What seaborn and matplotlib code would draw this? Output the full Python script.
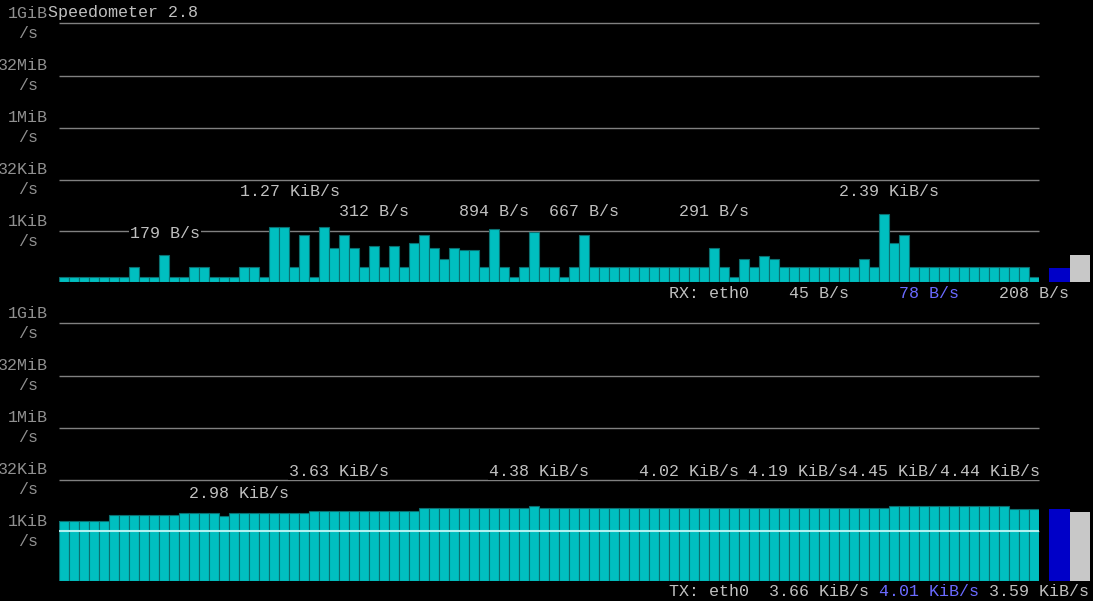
import numpy as np
import pandas as pd
import matplotlib.pyplot as plt
import seaborn as sns

# --- data (bar heights in screen pixels above each panel baseline) ---
rx_heights = [5, 5, 5, 5, 5, 5, 5, 15, 5, 5, 27, 5, 5, 15, 15, 5, 5, 5, 15, 15,
              5, 55, 55, 15, 47, 5, 55, 34, 47, 34, 15, 36, 15, 36, 15, 39, 47, 34, 23, 34,
              32, 32, 15, 53, 15, 5, 15, 50, 15, 15, 5, 15, 47, 15, 15, 15, 15, 15, 15, 15,
              15, 15, 15, 15, 15, 34, 15, 5, 23, 15, 26, 23, 15, 15, 15, 15, 15, 15, 15, 15,
              23, 15, 68, 39, 47, 15, 15, 15, 15, 15, 15, 15, 15, 15, 15, 15, 15, 5]
tx_heights = [60] * 5 + [66] * 7 + [68] * 4 + [65] + [68] * 8 + [70] * 11 + [73] * 11 \
    + [75] + [73] * 35 + [75] * 12 + [72] * 3
rx_side = [14, 27]   # blue (current), grey (max)
tx_side = [72, 69]

row_labels = ['1GiB', '32MiB', '1MiB', '32KiB', '1KiB']
rx_peaks = [('179 B/s', 130, 233), ('1.27 KiB/s', 240, 192), ('312 B/s', 339, 212),
            ('894 B/s', 459, 212), ('667 B/s', 549, 212), ('291 B/s', 679, 212),
            ('2.39 KiB/s', 839, 192)]
tx_peaks = [('3.63 KiB/s', 289, 472), ('4.38 KiB/s', 489, 472), ('4.02 KiB/s', 639, 472),
            ('4.19 KiB/s', 748, 472), ('4.45 KiB/', 848, 472), ('4.44 KiB/s', 940, 472),
            ('2.98 KiB/s', 189, 493)]
rx_status = ['RX: eth0', '45 B/s', '78 B/s', '208 B/s']
tx_status = ['TX: eth0', '3.66 KiB/s', '4.01 KiB/s', '3.59 KiB/s']

sns.set_theme(style='dark', rc={'axes.facecolor': 'black', 'figure.facecolor': 'black'})
plt.rcParams['font.family'] = ['Liberation Mono', 'DejaVu Sans Mono']

W, H = 1093, 601
CYAN, GREY, BLUE, TXT = '#00bfc0', '#c8c8c8', '#0000c8', '#c0c0c0'
fig = plt.figure(figsize=(W / 100, H / 100), dpi=100)

# full-figure pixel axes for text and grid lines
bg = fig.add_axes([0, 0, 1, 1])
bg.set_xlim(0, W)
bg.set_ylim(H, 0)
bg.axis('off')

def panel(heights, side, base, fill=None):
    n = len(heights)
    ax = fig.add_axes([59 / W, 1 - base / H, (59 + 10 * n - 59) / W, 100 / H])
    df = pd.DataFrame({'i': range(n), 'h': heights})
    if fill is not None:
        ax.bar(np.arange(n), [fill] * n, width=1, color=CYAN, linewidth=0)
    sns.barplot(data=df, x='i', y='h', color=CYAN, width=1, saturation=1,
                edgecolor='#0a6f70', linewidth=0.8, ax=ax)
    ax.set_xlim(-0.5, n - 0.5)
    ax.set_ylim(0, 100)
    ax.axis('off')
    ax.patch.set_alpha(0)
    # side meters
    sx = fig.add_axes([1049 / W, 1 - base / H, 41 / W, 100 / H])
    sx.bar([0, 1], side, width=1, color=[BLUE, GREY], linewidth=0)
    sx.set_xlim(-0.5, 1.5)
    sx.set_ylim(0, 100)
    sx.axis('off')
    sx.patch.set_alpha(0)
    return ax

for off in (0, 300):
    for k, lab in enumerate(row_labels):
        y = 23 + off + [0, 53, 105, 157, 208][k]
        bg.hlines(y, 59, 1039, color='#808080', lw=1, zorder=0)
        bg.text(48, y - 10, lab, color='#909090', fontsize=12, ha='right', va='center')
        bg.text(38, y + 10, '/s', color='#909090', fontsize=12, ha='right', va='center')

panel(rx_heights, rx_side, 282)
tx_ax = panel(tx_heights, tx_side, 581, fill=60)
tx_ax.axhline(50, color='#b0f0f0', lw=1.5)

bg.text(48, 13, 'Speedometer 2.8', color=TXT, fontsize=12, va='center')
for lab, x, y in rx_peaks + tx_peaks:
    bg.text(x, y, lab, color=TXT, fontsize=12, va='center',
            bbox=dict(fc='black', ec='none', pad=0.5), zorder=5)
for labels, y in ((rx_status, 293), (tx_status, 592)):
    xs = [669, 789, 899, 999] if y == 293 else [669, 769, 879, 989]
    for lab, x in zip(labels, xs):
        c = '#6a6aff' if lab in ('78 B/s', '4.01 KiB/s') else TXT
        bg.text(x, y, lab, color=c, fontsize=12, va='center')

fig.savefig('out.png', dpi=100, facecolor='black')
